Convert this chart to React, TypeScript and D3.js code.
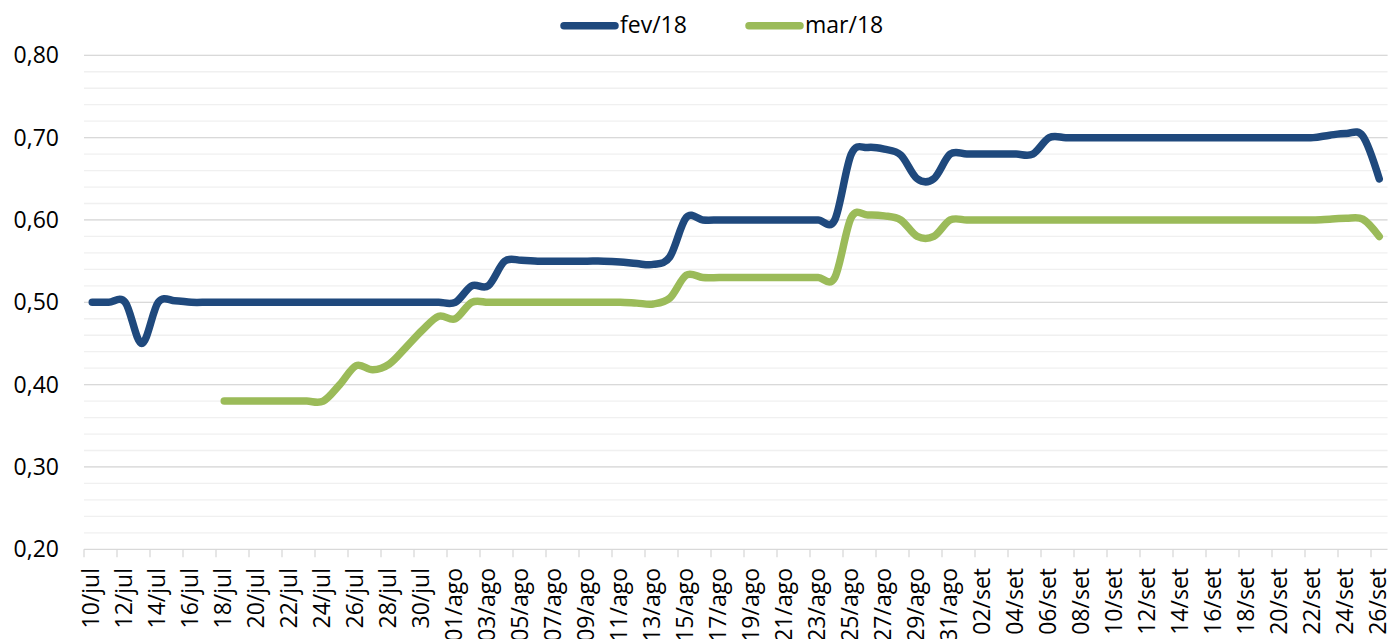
import React from 'react';
import * as d3 from 'd3';

// categories, one per day (10/jul .. 26/set)
const dias = [
  '10/jul', '11/jul', '12/jul', '13/jul', '14/jul', '15/jul', '16/jul', '17/jul', '18/jul', '19/jul',
  '20/jul', '21/jul', '22/jul', '23/jul', '24/jul', '25/jul', '26/jul', '27/jul', '28/jul', '29/jul',
  '30/jul', '31/jul', '01/ago', '02/ago', '03/ago', '04/ago', '05/ago', '06/ago', '07/ago', '08/ago',
  '09/ago', '10/ago', '11/ago', '12/ago', '13/ago', '14/ago', '15/ago', '16/ago', '17/ago', '18/ago',
  '19/ago', '20/ago', '21/ago', '22/ago', '23/ago', '24/ago', '25/ago', '26/ago', '27/ago', '28/ago',
  '29/ago', '30/ago', '31/ago', '01/set', '02/set', '03/set', '04/set', '05/set', '06/set', '07/set',
  '08/set', '09/set', '10/set', '11/set', '12/set', '13/set', '14/set', '15/set', '16/set', '17/set',
  '18/set', '19/set', '20/set', '21/set', '22/set', '23/set', '24/set', '25/set', '26/set',
];

const fev18 = [
  0.50, 0.50, 0.50, 0.45, 0.50, 0.502, 0.50, 0.50, 0.50, 0.50,
  0.50, 0.50, 0.50, 0.50, 0.50, 0.50, 0.50, 0.50, 0.50, 0.50,
  0.50, 0.50, 0.50, 0.52, 0.52, 0.55, 0.551, 0.55, 0.55, 0.55,
  0.55, 0.55, 0.549, 0.547, 0.546, 0.555, 0.603, 0.60, 0.60, 0.60,
  0.60, 0.60, 0.60, 0.60, 0.60, 0.60, 0.68, 0.688, 0.686, 0.679,
  0.65, 0.65, 0.68, 0.68, 0.68, 0.68, 0.68, 0.68, 0.70, 0.70,
  0.70, 0.70, 0.70, 0.70, 0.70, 0.70, 0.70, 0.70, 0.70, 0.70,
  0.70, 0.70, 0.70, 0.70, 0.70, 0.703, 0.705, 0.702, 0.65,
];

const mar18 = [
  null, null, null, null, null, null, null, null, 0.38, 0.38,
  0.38, 0.38, 0.38, 0.38, 0.38, 0.40, 0.423, 0.418, 0.425, 0.445,
  0.466, 0.483, 0.48, 0.50, 0.50, 0.50, 0.50, 0.50, 0.50, 0.50,
  0.50, 0.50, 0.50, 0.499, 0.498, 0.505, 0.533, 0.53, 0.53, 0.53,
  0.53, 0.53, 0.53, 0.53, 0.53, 0.53, 0.603, 0.606, 0.605, 0.60,
  0.58, 0.58, 0.60, 0.60, 0.60, 0.60, 0.60, 0.60, 0.60, 0.60,
  0.60, 0.60, 0.60, 0.60, 0.60, 0.60, 0.60, 0.60, 0.60, 0.60,
  0.60, 0.60, 0.60, 0.60, 0.60, 0.601, 0.602, 0.601, 0.58,
];

const yTicks = [0.2, 0.3, 0.4, 0.5, 0.6, 0.7, 0.8];
const yMinor = d3.range(0.22, 0.8, 0.02);

const series = [
  { name: 'fev/18', values: fev18, color: '#1F497D' },
  { name: 'mar/18', values: mar18, color: '#9BBB59' },
];

const W = 1392;
const H = 639;
const left = 84;
const right = 1387.5;
const top = 55.3;
const bottom = 549.3;
const font = '"Open Sans", sans-serif';

export default function App() {
  const x = d3.scaleBand<string>().domain(dias).range([left, right]).paddingInner(0).paddingOuter(0);
  const y = d3.scaleLinear().domain([0.2, 0.8]).range([bottom, top]);
  const cx = (i: number) => (x(dias[i]) as number) + x.bandwidth() / 2;

  const line = d3
    .line<number | null>()
    .defined((d) => d != null)
    .x((_, i) => cx(i))
    .y((d) => y(d as number))
    .curve(d3.curveCardinal.tension(0));

  const fmt = (v: number) => v.toFixed(2).replace('.', ',');

  return (
    <svg width={W} height={H} style={{ position: 'absolute', left: 0, top: 0, background: '#fff' }} fontFamily={font}>
      {/* minor gridlines */}
      {yMinor.map((v) => (
        <line key={'m' + v} x1={left} x2={right} y1={y(v)} y2={y(v)} stroke="#f0f0f0" strokeWidth={1.3} />
      ))}
      {/* major gridlines */}
      {yTicks.map((v) => (
        <line key={'g' + v} x1={left} x2={right} y1={y(v)} y2={y(v)} stroke="#d9d9d9" strokeWidth={1.3} />
      ))}
      {yTicks.map((v) => (
        <text key={'t' + v} x={59} y={y(v)} dy="0.35em" textAnchor="end" fontSize={23} fill="#000">
          {fmt(v)}
        </text>
      ))}
      {/* x axis ticks every two days */}
      {dias.map((d, i) =>
        i % 2 === 0 ? (
          <line key={'k' + d} x1={x(d)} x2={x(d)} y1={bottom} y2={bottom + 8} stroke="#d9d9d9" strokeWidth={1.3} />
        ) : null
      )}
      {dias.map((d, i) =>
        i % 2 === 0 ? (
          <text
            key={'l' + d}
            transform={`translate(${cx(i) + 7},568) rotate(-90)`}
            textAnchor="end"
            fontSize={23}
            fill="#000"
          >
            {d}
          </text>
        ) : null
      )}
      {series.map((s) => (
        <path
          key={s.name}
          d={line(s.values) || ''}
          fill="none"
          stroke={s.color}
          strokeWidth={7.5}
          strokeLinecap="round"
          strokeLinejoin="round"
        />
      ))}
      {/* legend */}
      {series.map((s, i) => {
        const lx = 564 + i * 185;
        return (
          <g key={'lg' + s.name}>
            <line x1={lx} x2={lx + 51} y1={25.7} y2={25.7} stroke={s.color} strokeWidth={7.5} strokeLinecap="round" />
            <text x={lx + 56} y={33} fontSize={23} fill="#000">
              {s.name}
            </text>
          </g>
        );
      })}
    </svg>
  );
}
